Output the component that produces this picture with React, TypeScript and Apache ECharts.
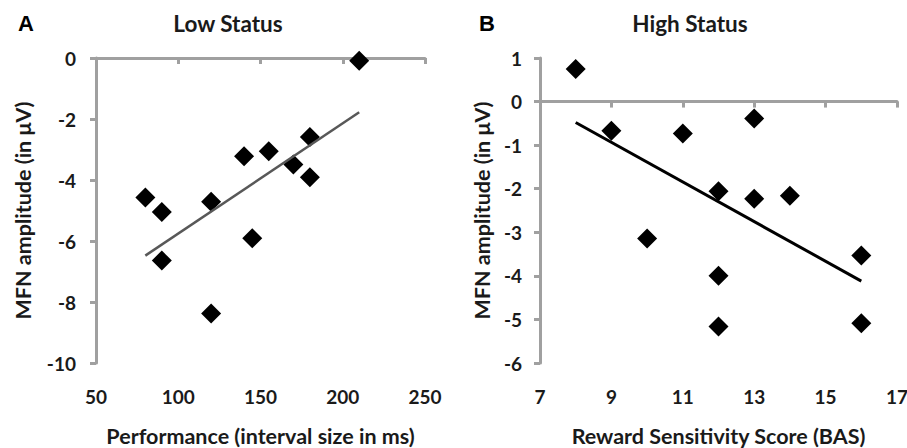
import React, { useEffect, useRef } from "react";
import * as echarts from "echarts";

// Panel A: Low Status
const perfX = [80, 90, 90, 120, 120, 140, 155, 145, 170, 180, 180, 210];
const perfY = [-4.57, -5.05, -6.64, -4.71, -8.38, -3.22, -3.06, -5.91, -3.49, -2.59, -3.91, -0.09];
const perfTrendX = [80, 210];
const perfTrendY = [-6.48, -1.78];
const perfYRange = [-10, 0];

// Panel B: High Status
const basX = [8, 9, 11, 13, 12, 13, 14, 10, 12, 12, 16, 16];
const basY = [0.75, -0.67, -0.73, -0.39, -2.06, -2.23, -2.16, -3.14, -4.0, -5.16, -3.53, -5.09];
const basTrendX = [8, 16];
const basTrendY = [-0.48, -4.12];
const basYRange = [-6, 1];

const FONT = "Lato";
const AXIS_COLOR = "#a0a0a0";
const TEXT_COLOR = "#1a1a1a";
const GRID_H = 305;

const zip = (xs: number[], ys: number[]) => xs.map((x, i) => [x, ys[i]]);

export default function App() {
  const ref = useRef<HTMLDivElement>(null);
  useEffect(() => {
    document.body.style.margin = "0";
    if (!ref.current) return;
    const chart = echarts.init(ref.current, null, { renderer: "svg" });

    const labelAxis = (gridIndex: number, min: number, max: number, interval: number, name: string) => ({
      type: "value",
      gridIndex,
      min,
      max,
      interval,
      position: "bottom",
      name,
      nameLocation: "middle",
      nameGap: 62,
      nameMoveOverlap: false,
      nameTextStyle: { fontFamily: FONT, fontWeight: "bold", fontSize: 21.5, color: TEXT_COLOR },
      axisLine: { show: false, onZero: false },
      axisTick: { show: false },
      splitLine: { show: false },
      axisLabel: { fontFamily: FONT, fontWeight: "bold", fontSize: 19, color: TEXT_COLOR, margin: 24 },
    });
    // zero line axis: placed at the y = 0 level of its grid (offset derived from the y range)
    const lineAxis = (gridIndex: number, min: number, max: number, interval: number, yRange: number[]) => ({
      type: "value",
      gridIndex,
      min,
      max,
      interval,
      position: "top",
      offset: -((yRange[1] - 0) / (yRange[1] - yRange[0])) * GRID_H,
      axisLine: { show: true, onZero: false, lineStyle: { color: AXIS_COLOR, width: 3 } },
      axisTick: { show: true, inside: true, length: 6, lineStyle: { color: AXIS_COLOR, width: 3 } },
      axisLabel: { show: false },
      splitLine: { show: false },
    });
    const yAxis = (gridIndex: number, yRange: number[], interval: number, nameGap: number, margin: number) => ({
      type: "value",
      gridIndex,
      min: yRange[0],
      max: yRange[1],
      interval,
      name: "MFN amplitude (in \u03bcV)",
      nameLocation: "middle",
      nameGap,
      nameMoveOverlap: false,
      nameTextStyle: { fontFamily: FONT, fontWeight: "bold", fontSize: 21.5, color: TEXT_COLOR },
      axisLine: { show: true, onZero: false, lineStyle: { color: AXIS_COLOR, width: 3 } },
      axisTick: { show: true, length: 6, lineStyle: { color: AXIS_COLOR, width: 3 } },
      axisLabel: { fontFamily: FONT, fontWeight: "bold", fontSize: 19, color: TEXT_COLOR, margin },
      splitLine: { show: false },
    });

    const titleStyle = { fontFamily: FONT, fontWeight: "bold", fontSize: 22.5, color: TEXT_COLOR };
    const letterStyle = { fontFamily: "Liberation Sans", fontWeight: "bold", fontSize: 22, color: "#000" };

    chart.setOption({
      animation: false,
      title: [
        { text: "A", left: 13, top: 7, textStyle: letterStyle },
        { text: "Low Status", left: 223, top: 7, textAlign: "center", textStyle: titleStyle },
        { text: "B", left: 474, top: 7, textStyle: letterStyle },
        { text: "High Status", left: 685, top: 7, textAlign: "center", textStyle: titleStyle },
      ],
      grid: [
        { left: 96, top: 58, width: 329, height: GRID_H, outerBoundsMode: "none", containLabel: false },
        { left: 540, top: 58, width: 357, height: GRID_H, outerBoundsMode: "none", containLabel: false },
      ],
      xAxis: [
        labelAxis(0, 50, 250, 50, "Performance (interval size in ms)"),
        lineAxis(0, 50, 250, 50, perfYRange),
        labelAxis(1, 7, 17, 2, "Reward Sensitivity Score (BAS)"),
        lineAxis(1, 7, 17, 2, basYRange),
      ],
      yAxis: [yAxis(0, perfYRange, 2, 62, 20), yAxis(1, basYRange, 1, 47, 18)],
      series: [
        {
          type: "line",
          xAxisIndex: 0,
          yAxisIndex: 0,
          data: zip(perfTrendX, perfTrendY),
          symbol: "none",
          lineStyle: { color: "#585858", width: 2.5 },
        },
        {
          type: "scatter",
          xAxisIndex: 0,
          yAxisIndex: 0,
          data: zip(perfX, perfY),
          symbol: "diamond",
          symbolSize: 20,
          itemStyle: { color: "#000", opacity: 1 },
        },
        {
          type: "line",
          xAxisIndex: 2,
          yAxisIndex: 1,
          data: zip(basTrendX, basTrendY),
          symbol: "none",
          lineStyle: { color: "#000", width: 3 },
        },
        {
          type: "scatter",
          xAxisIndex: 2,
          yAxisIndex: 1,
          data: zip(basX, basY),
          symbol: "diamond",
          symbolSize: 20,
          itemStyle: { color: "#000", opacity: 1 },
        },
      ],
    });
    return () => chart.dispose();
  }, []);
  return <div ref={ref} style={{ width: 907, height: 448 }} />;
}
